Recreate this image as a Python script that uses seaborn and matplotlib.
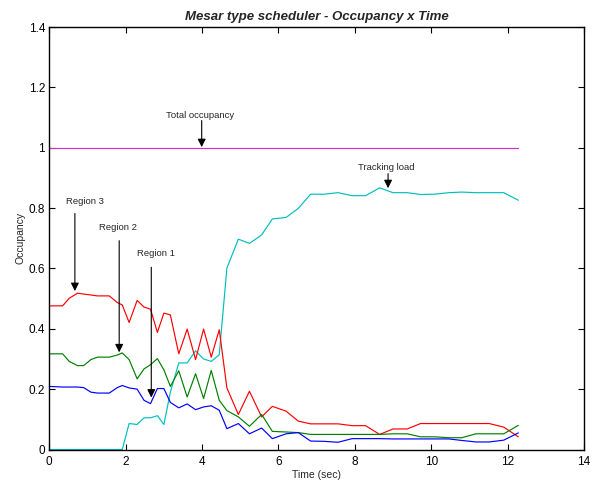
import numpy as np
import pandas as pd
import matplotlib
matplotlib.use("Agg")
import matplotlib.pyplot as plt
from matplotlib.ticker import FormatStrFormatter
import seaborn as sns

# ---- data ----
time_sec = [0, 0.35, 0.52, 0.74, 0.9, 1.09, 1.26, 1.57, 1.78, 1.91, 2.09, 2.30, 2.48, 2.65,
            2.83, 3.0, 3.17, 3.39, 3.61, 3.83, 4.04, 4.24, 4.45, 4.65, 4.95, 5.24, 5.56,
            5.84, 6.2, 6.52, 6.84, 7.2, 7.56, 7.93, 8.28, 8.65, 9.0, 9.37, 9.72, 10.09,
            10.46, 10.8, 11.17, 11.52, 11.9, 12.28]

region3 = [0.476, 0.476, 0.501, 0.518, 0.515, 0.512, 0.509, 0.509, 0.487, 0.479, 0.421,
           0.494, 0.472, 0.465, 0.388, 0.452, 0.446, 0.317, 0.399, 0.298, 0.399, 0.306,
           0.397, 0.204, 0.116, 0.193, 0.108, 0.143, 0.127, 0.094, 0.085, 0.085, 0.085,
           0.079, 0.079, 0.050, 0.068, 0.068, 0.086, 0.086, 0.086, 0.086, 0.086, 0.086,
           0.074, 0.042]

region2 = [0.317, 0.317, 0.292, 0.278, 0.278, 0.298, 0.306, 0.306, 0.313, 0.320, 0.298,
           0.234, 0.267, 0.281, 0.301, 0.264, 0.209, 0.261, 0.174, 0.251, 0.169, 0.262,
           0.163, 0.129, 0.108, 0.077, 0.116, 0.060, 0.058, 0.056, 0.050, 0.050, 0.050,
           0.050, 0.050, 0.050, 0.052, 0.052, 0.042, 0.042, 0.039, 0.039, 0.052, 0.052,
           0.052, 0.080]

region1 = [0.209, 0.207, 0.207, 0.207, 0.205, 0.190, 0.187, 0.187, 0.205, 0.212, 0.204,
           0.200, 0.163, 0.152, 0.202, 0.202, 0.156, 0.138, 0.151, 0.132, 0.141, 0.145,
           0.130, 0.069, 0.086, 0.052, 0.071, 0.036, 0.052, 0.056, 0.028, 0.027, 0.024,
           0.036, 0.036, 0.036, 0.035, 0.035, 0.035, 0.035, 0.035, 0.030, 0.025, 0.025,
           0.031, 0.055]

tracking = [0, 0, 0, 0, 0, 0, 0, 0, 0, 0, 0.086, 0.083, 0.105, 0.105, 0.112, 0.083, 0.19,
            0.287, 0.287, 0.327, 0.300, 0.292, 0.314, 0.601, 0.697, 0.683, 0.711, 0.764,
            0.769, 0.799, 0.846, 0.846, 0.851, 0.841, 0.841, 0.867, 0.851, 0.851, 0.845,
            0.846, 0.851, 0.853, 0.851, 0.851, 0.851, 0.826]

total = [1.0] * len(time_sec)

series_names = ["Total occupancy", "Tracking load", "Region 3", "Region 2", "Region 1"]
series_colors = ["#cc33cc", "#00bfbf", "#ff0000", "#008000", "#0000ff"]

# ---- long-form table ----
frames = []
for name, vals in zip(series_names, [total, tracking, region3, region2, region1]):
    frames.append(pd.DataFrame({"Time": time_sec, "Occupancy": vals, "Series": name}))
df = pd.concat(frames, ignore_index=True)

sns.set_style("ticks")
plt.rcParams["font.family"] = ["Liberation Sans", "DejaVu Sans"]

fig = plt.figure(figsize=(5.96, 4.82), dpi=100)
ax = fig.add_axes([49.3 / 596, 1 - 449.5 / 482, (584 - 49.3) / 596, (449.5 - 27) / 482])

sns.lineplot(data=df, x="Time", y="Occupancy", hue="Series", hue_order=series_names,
             palette=dict(zip(series_names, series_colors)), linewidth=0.85,
             legend=False, ax=ax, estimator=None, sort=False, clip_on=False)

ax.set_xlim(0, 14)
ax.set_ylim(0, 1.4)
ax.set_xticks(np.arange(0, 15, 2))
ax.set_yticks(np.arange(0, 1.41, 0.2))
ax.yaxis.set_major_formatter(FormatStrFormatter("%g"))
ax.tick_params(direction="in", top=True, right=True, labelsize=8.5, length=4,
               width=0.8, colors="black", pad=3)
ax.tick_params(axis="x", pad=5)
for sp in ax.spines.values():
    sp.set_linewidth(1.0)
    sp.set_color("black")

ax.set_xlabel("Time (sec)", fontsize=7.5, labelpad=1)
ax.set_ylabel("Occupancy", fontsize=7.5, labelpad=2)
ax.set_title("Mesar type scheduler - Occupancy x Time", fontsize=9.5,
             fontweight="bold", fontstyle="italic", pad=5)

arrow_kw = dict(arrowstyle="-|>", color="black", lw=0.8, mutation_scale=12,
                shrinkA=0, shrinkB=0)
ax.annotate("", xy=(3.99, 1.002), xytext=(3.99, 1.09), arrowprops=arrow_kw)
ax.text(3.95, 1.107, "Total occupancy", fontsize=6.8, ha="center", va="center")

ax.annotate("", xy=(8.87, 0.866), xytext=(8.87, 0.914), arrowprops=arrow_kw)
ax.text(8.83, 0.935, "Tracking load", fontsize=6.8, ha="center", va="center")

ax.annotate("", xy=(0.67, 0.525), xytext=(0.67, 0.782), arrowprops=arrow_kw)
ax.text(0.94, 0.822, "Region 3", fontsize=6.8, ha="center", va="center")

ax.annotate("", xy=(1.83, 0.322), xytext=(1.83, 0.692), arrowprops=arrow_kw)
ax.text(1.80, 0.735, "Region 2", fontsize=6.8, ha="center", va="center")

ax.annotate("", xy=(2.67, 0.172), xytext=(2.67, 0.604), arrowprops=arrow_kw)
ax.text(2.78, 0.651, "Region 1", fontsize=6.8, ha="center", va="center")

fig.savefig("out.png", dpi=100)
